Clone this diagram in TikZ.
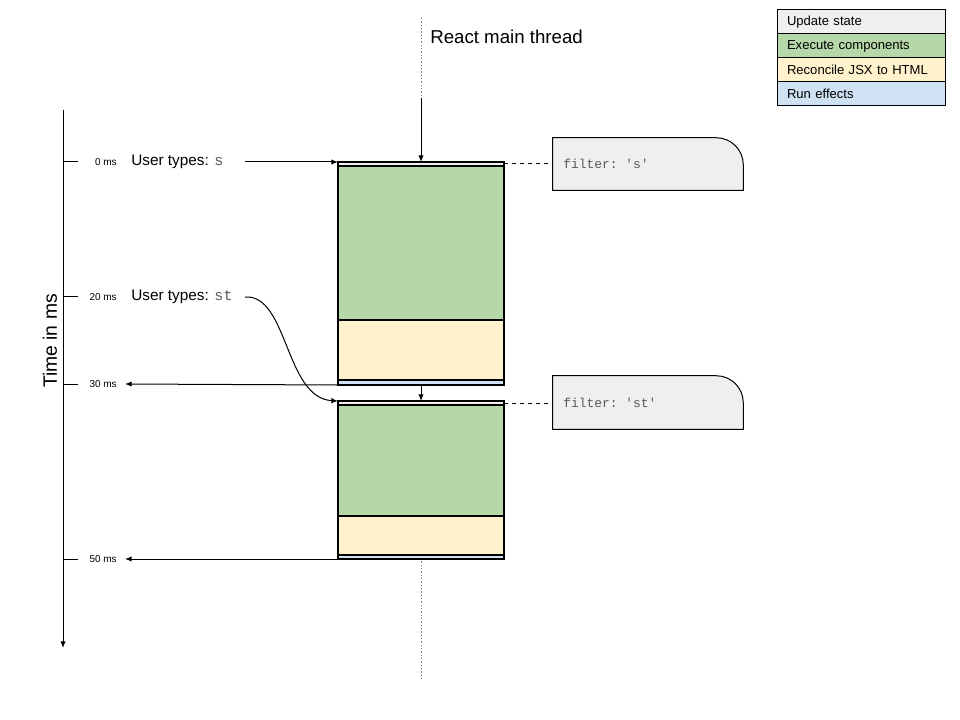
\documentclass[tikz,border=0pt]{standalone}
\usepackage{fontspec}
\setmainfont{Liberation Sans}
\setmonofont{Liberation Mono}
\usetikzlibrary{arrows.meta}
\definecolor{cgray}{HTML}{EFEFEF}
\definecolor{cgreen}{HTML}{B6D7A8}
\definecolor{cyellow}{HTML}{FFF2CC}
\definecolor{cblue}{HTML}{CFE2F3}
\definecolor{codegray}{HTML}{595959}
\definecolor{dotgray}{HTML}{808080}
\begin{document}
\begin{tikzpicture}[x=0.75pt,y=-0.75pt,
  seg/.style={draw=black, line width=0.85pt, inner sep=0pt, outer sep=0pt, minimum width=124.5pt, anchor=north west},
  conn/.style={line width=0.75pt, -{Latex[length=5pt,width=4pt]}},
  plain/.style={line width=0.75pt},
  ticklbl/.style={font=\fontsize{7.5}{9}\selectfont, anchor=east, inner sep=0pt},
  user/.style={font=\fontsize{11.5}{13}\selectfont, anchor=west, inner sep=0pt},
  code/.style={font=\fontsize{9.7}{11}\ttfamily, text=codegray, anchor=west, inner sep=0pt},
  notebox/.style={draw=none, inner sep=0pt, minimum width=142.5pt, minimum height=39pt},
  noteshape/.style={fill=cgray, draw=black, line width=0.75pt},
  legend/.style={draw=black, line width=0.75pt, anchor=north west, outer sep=0pt, inner xsep=7.5pt, inner ysep=0pt, text width=111pt, minimum height=18pt, align=left, font=\fontsize{9.8}{12}\selectfont},
  dotline/.style={draw=dotgray, line width=0.6pt, dash pattern=on 1pt off 1.5pt}
]
\useasboundingbox (0,0) rectangle (960,720);

% React main thread line
\coordinate (mtTop) at (421,18);
\coordinate (mtArr) at (421,98);
\coordinate (mtBot) at (421,680);
\draw[dotline] (mtTop) -- (mtBot);
\node[anchor=west, inner sep=0pt, font=\fontsize{14}{16}\selectfont] (mtlbl) at (430,37) {React main thread};

% Time axis
\coordinate (axTop) at (63,110);
\coordinate (axBot) at (63,648);
\draw[conn] (axTop) -- (axBot);
\node[rotate=90, inner sep=0pt, font=\fontsize{14.5}{16}\selectfont] (axlbl) at (50,341) {Time in ms};

\foreach \y/\n in {162/0,297/20,384/30,559/50}{
  \draw[plain] (63,\y) -- (78,\y);
  \node[ticklbl] (t\n) at (117,\y) {\n\ ms};
}

% Block 1
\node[seg, fill=cgray, minimum height=3pt] (b1u) at (338,162) {};
\node[seg, fill=cgreen, minimum height=115.5pt] (b1e) at (338,166) {};
\node[seg, fill=cyellow, minimum height=45pt] (b1c) at (338,320) {};
\node[seg, fill=cblue, minimum height=3.75pt] (b1r) at (338,380) {};

% Block 2
\node[seg, fill=cgray, minimum height=3pt] (b2u) at (338,401) {};
\node[seg, fill=cgreen, minimum height=83.25pt] (b2e) at (338,405) {};
\node[seg, fill=cyellow, minimum height=29.25pt] (b2c) at (338,516) {};
\node[seg, fill=cblue, minimum height=3pt] (b2r) at (338,555) {};

% main thread arrows
\draw[conn] (mtArr) -- (b1u.north);
\draw[conn] (b1r.south) -- (b2u.north);

% user input
\node[user] (u1) at (131,162) {User types: \textcolor{codegray}{\fontsize{11.3}{13}\ttfamily s}};
\node[user] (u2) at (131,297) {User types: \textcolor{codegray}{\fontsize{11.3}{13}\ttfamily st}};
\coordinate (a1) at (245,162);
\coordinate (a2) at (245,297);
\draw[conn] (a1) -- (b1u.north west);
\draw[conn] (a2) .. controls (288,294) and (285,398) .. (b2u.north west);

% output arrows
\draw[conn] (b1r.south west) -- ([xshift=6pt]t30.east);
\draw[conn] (b2r.south west) -- ([xshift=6pt]t50.east);

% notes
\node[notebox] (n1) at (648,164) {};
\node[notebox, minimum height=39.75pt] (n2) at (648,402.5) {};
\foreach \n in {n1,n2}{
  \draw[noteshape] (\n.south west) -- (\n.north west) -- ([xshift=-20.25pt]\n.north east)
    arc[start angle=-90, end angle=0, radius=27] -- (\n.south east) -- cycle;
}
\node[code] (n1t) at (563,164) {filter: 's'};
\node[code] (n2t) at (563,403) {filter: 'st'};
\draw[plain, dashed] (b1u.east) -- (n1.west |- b1u.east);
\draw[plain, dashed] (b2u.east) -- (n2.west |- b2u.east);

% legend
\node[legend, fill=cgray] (l1) at (777,10) {Update state};
\node[legend, fill=cgreen] (l2) at (l1.south west) {Execute components};
\node[legend, fill=cyellow] (l3) at (l2.south west) {Reconcile JSX to HTML};
\node[legend, fill=cblue] (l4) at (l3.south west) {Run effects};
\end{tikzpicture}
\end{document}
